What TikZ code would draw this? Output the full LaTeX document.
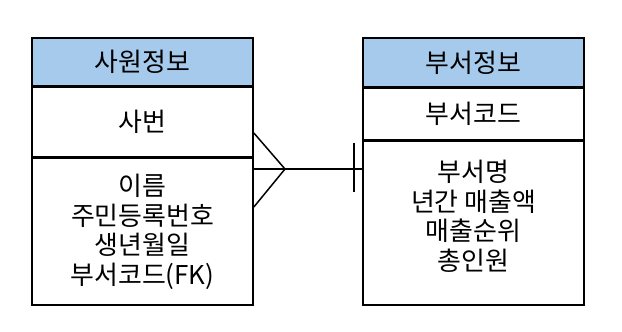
\documentclass[tikz,border=0pt]{standalone}
\usepackage{fontspec}
\setmainfont{Noto Sans CJK KR}
\usetikzlibrary{positioning}
\definecolor{headblue}{RGB}{166,202,236}

\begin{document}
\begin{tikzpicture}[x=1bp,y=-1bp,
  box/.style={draw, line width=1.7bp, minimum width=221bp, inner sep=0pt,
    anchor=north, align=center, font={\fontsize{26}{29.5}\selectfont}},
  head/.style={box, fill=headblue},
  link/.style={line width=1.5bp}]
\useasboundingbox (0,0) rectangle (622,331);

\node[head, minimum height=48bp] (sawon-head) at (142.5,37) {사원정보};
\node[box, minimum height=69bp, below=0pt of sawon-head] (sawon-key) {사번};
\node[box, minimum height=147bp, below=0pt of sawon-key] (sawon-attr)
  {이름\\주민등록번호\\생년월일\\부서코드(FK)};

\node[head, minimum height=49bp] (buseo-head) at (473.5,37) {부서정보};
\node[box, minimum height=51bp, below=0pt of buseo-head] (buseo-key) {부서코드};
\node[box, minimum height=164bp, text depth=16bp, below=0pt of buseo-key] (buseo-attr)
  {부서명\\년간 매출액\\매출순위\\총인원};

\coordinate (apex) at (285,169);
\coordinate (toe-up) at (sawon-attr.east |- 0,133);
\coordinate (toe-dn) at (sawon-attr.east |- 0,207);
\coordinate (join) at (buseo-attr.west |- apex);

\draw[link] (sawon-attr.east |- apex) -- (join);
\draw[link] (toe-up) -- (apex) -- (toe-dn);
\draw[link] ([shift={(-8,-26)}]join) -- ([shift={(-8,23)}]join);

\end{tikzpicture}
\end{document}
